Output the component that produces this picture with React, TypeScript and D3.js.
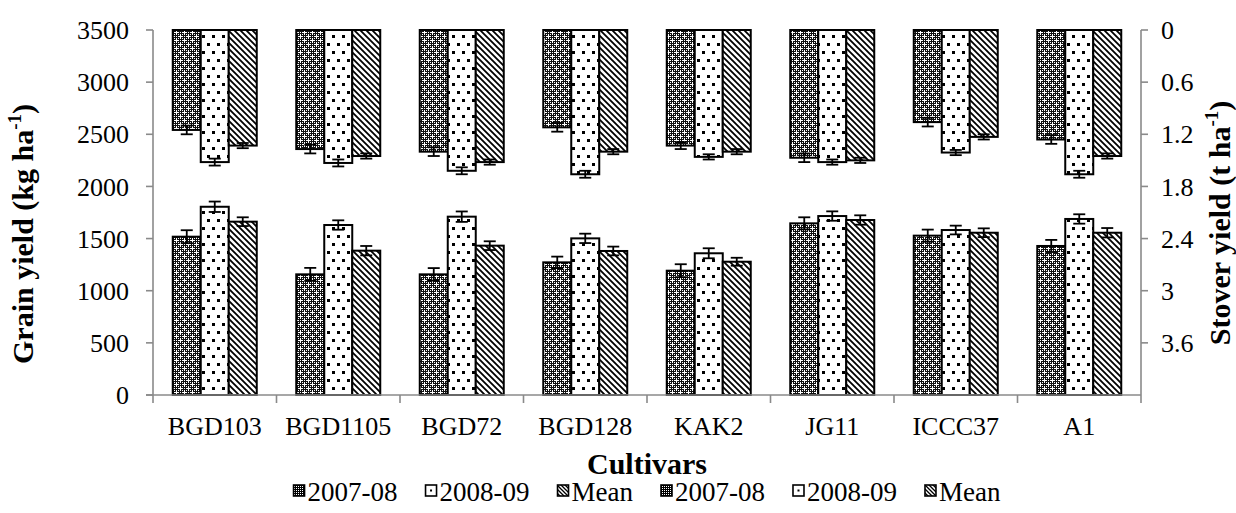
import React from "react";
import * as d3 from "d3";

const categories = ["BGD103", "BGD1105", "BGD72", "BGD128", "KAK2", "JG11", "ICCC37", "A1"];
const seriesNames = ["2007-08", "2008-09", "Mean"];

// Grain yield (kg/ha), left axis, bars rising from bottom
const grain0708 = [1518, 1157, 1157, 1272, 1192, 1646, 1528, 1429];
const grain0809 = [1805, 1630, 1710, 1502, 1359, 1716, 1582, 1688];
const grainMean = [1662, 1384, 1432, 1381, 1278, 1678, 1556, 1556];
const grainErr0708 = [62, 62, 60, 55, 62, 58, 58, 58];
const grainErr0809 = [50, 45, 50, 45, 48, 45, 42, 45];
const grainErrMean = [42, 45, 42, 42, 38, 45, 42, 45];

// Stover yield (t/ha), right reversed axis, bars hanging from top
const stover0708 = [1.15, 1.37, 1.40, 1.12, 1.33, 1.47, 1.06, 1.26];
const stover0809 = [1.52, 1.53, 1.62, 1.66, 1.46, 1.52, 1.41, 1.66];
const stoverMean = [1.33, 1.45, 1.52, 1.40, 1.40, 1.50, 1.23, 1.45];
const stoverErr0708 = [0.05, 0.05, 0.05, 0.05, 0.04, 0.05, 0.05, 0.05];
const stoverErr0809 = [0.04, 0.04, 0.04, 0.04, 0.03, 0.03, 0.03, 0.04];
const stoverErrMean = [0.03, 0.03, 0.03, 0.03, 0.03, 0.03, 0.03, 0.03];

const leftTicks = [0, 500, 1000, 1500, 2000, 2500, 3000, 3500];
const rightTicks = [0, 0.6, 1.2, 1.8, 2.4, 3, 3.6];

const W = 1236;
const H = 513;
const plotLeft = 153;
const plotRight = 1141;
const plotTop = 30;
const plotBottom = 395;
const FONT = "Liberation Serif";
const AXIS = "#8a8a8a";
const patIds = ["pChk", "pDot", "pDiag"];

const txt = (size: number, bold = false): React.CSSProperties => ({
  fontFamily: FONT,
  fontSize: `${size}px`,
  fontWeight: bold ? 700 : 400,
});

// white pixels of the dark "2007-08" texture (8x8 tile)
const chkWhite: [number, number][] = [];
for (let a = 0; a < 8; a += 2) for (let b = 0; b < 8; b += 2) chkWhite.push([a, b]);
chkWhite.push([3, 4], [5, 4], [4, 3], [4, 5], [1, 0], [7, 0], [0, 1], [0, 7]);

export default function App() {
  const x = d3.scaleBand().domain(categories).range([plotLeft, plotRight]).padding(0);
  const groupW = 84;
  const inner = d3.scaleBand().domain(seriesNames).range([0, groupW]).padding(0);
  const off = (x.bandwidth() - groupW) / 2;
  const yL = d3.scaleLinear().domain([0, 3500]).range([plotBottom, plotTop]);
  const yR = d3.scaleLinear().domain([0, 4.2]).range([plotTop, plotBottom]);

  const grain = [grain0708, grain0809, grainMean];
  const grainErr = [grainErr0708, grainErr0809, grainErrMean];
  const stover = [stover0708, stover0809, stoverMean];
  const stoverErr = [stoverErr0708, stoverErr0809, stoverErrMean];

  const bars: any[] = [];
  const errs: any[] = [];
  const cap = 6;
  categories.forEach((c, i) => {
    seriesNames.forEach((s, j) => {
      const bx = (x(c) as number) + off + (inner(s) as number);
      const bw = inner.bandwidth();
      const cx = bx + bw / 2;
      const gv = grain[j][i];
      bars.push(
        <rect key={`g${i}${j}`} x={bx} y={yL(gv)} width={bw} height={plotBottom - yL(gv)}
          fill={`url(#${patIds[j]})`} stroke="#000" strokeWidth={2} />
      );
      const ge = grainErr[j][i];
      const g1 = yL(gv + ge), g2 = yL(gv - ge);
      errs.push(
        <g key={`ge${i}${j}`} stroke="#000" strokeWidth={1.8}>
          <line x1={cx} x2={cx} y1={g1} y2={g2} />
          <line x1={cx - cap} x2={cx + cap} y1={g1} y2={g1} />
          <line x1={cx - cap} x2={cx + cap} y1={g2} y2={g2} />
        </g>
      );
      const sv = stover[j][i];
      bars.push(
        <rect key={`s${i}${j}`} x={bx} y={plotTop} width={bw} height={yR(sv) - plotTop}
          fill={`url(#${patIds[j]})`} stroke="#000" strokeWidth={2} />
      );
      const se = stoverErr[j][i];
      const s1 = yR(sv - se), s2 = yR(sv + se);
      errs.push(
        <g key={`se${i}${j}`} stroke="#000" strokeWidth={1.8}>
          <line x1={cx} x2={cx} y1={s1} y2={s2} />
          <line x1={cx - cap} x2={cx + cap} y1={s1} y2={s1} />
          <line x1={cx - cap} x2={cx + cap} y1={s2} y2={s2} />
        </g>
      );
    });
  });

  // legend layout
  const legendFont = 27;
  const legendItems = [...seriesNames, ...seriesNames].map((n, k) => ({ name: n, pat: patIds[k % 3] }));
  const measure = (t: string) => {
    const cv = document.createElement("canvas").getContext("2d");
    if (!cv) return t.length * legendFont * 0.45;
    cv.font = `${legendFont}px "Liberation Serif"`;
    return cv.measureText(t).width;
  };
  const sw = 11, swGap = 3, itemGap = 28;
  const widths = legendItems.map((it) => sw + swGap + measure(it.name));
  const total = widths.reduce((a, b) => a + b, 0) + itemGap * (widths.length - 1);
  let lx = (plotLeft + plotRight) / 2 - total / 2;
  const legendY = 501;
  const legend = legendItems.map((it, k) => {
    const x0 = lx;
    lx += widths[k] + itemGap;
    return (
      <g key={`lg${k}`}>
        <rect x={x0} y={legendY - 16} width={sw} height={sw} fill={`url(#${it.pat}S)`} stroke="#000" strokeWidth={1.6} />
        {it.pat === "pDot" && <rect x={x0 + 4.5} y={legendY - 11.5} width={2} height={2} fill="#000" />}
        <text x={x0 + sw + swGap} y={legendY} style={txt(legendFont)}>{it.name}</text>
      </g>
    );
  });

  return (
    <svg width={W} height={H} style={{ position: "absolute", left: 0, top: 0, background: "#fff" }}>
      <defs>
        <pattern id="pChk" width={8} height={8} patternUnits="userSpaceOnUse">
          <rect width={8} height={8} fill="#111" />
          {chkWhite.map(([a, b]) => (
            <rect key={`c${a}_${b}`} x={a} y={b} width={1} height={1} fill="#fff" />
          ))}
        </pattern>
        <pattern id="pDot" width={10} height={16} patternUnits="userSpaceOnUse">
          <rect width={10} height={16} fill="#fff" />
          <rect x={2} y={3} width={3} height={3} fill="#000" />
          <rect x={7} y={11} width={3} height={3} fill="#000" />
        </pattern>
        <pattern id="pDiag" width={6} height={6} patternUnits="userSpaceOnUse">
          <rect width={6} height={6} fill="#fff" />
          <path d="M0,0 L6,6 M-1,5 L1,7 M5,-1 L7,1" stroke="#000" strokeWidth={1.8} />
        </pattern>
        <pattern id="pChkS" width={2} height={2} patternUnits="userSpaceOnUse">
          <rect width={2} height={2} fill="#000" />
          <rect x={0} y={0} width={1} height={1} fill="#fff" />
        </pattern>
        <pattern id="pDotS" width={10} height={10} patternUnits="userSpaceOnUse">
          <rect width={10} height={10} fill="#fff" />
        </pattern>
        <pattern id="pDiagS" width={4} height={4} patternUnits="userSpaceOnUse">
          <rect width={4} height={4} fill="#fff" />
          <path d="M0,0 L4,4 M-1,3 L1,5 M3,-1 L5,1" stroke="#000" strokeWidth={1.3} />
        </pattern>
      </defs>

      {bars}
      {errs}

      {/* left axis */}
      <line x1={plotLeft} x2={plotLeft} y1={plotTop} y2={plotBottom + 8} stroke={AXIS} strokeWidth={1.6} />
      {leftTicks.map((t) => (
        <g key={`lt${t}`}>
          <line x1={plotLeft - 7} x2={plotLeft} y1={yL(t)} y2={yL(t)} stroke={AXIS} strokeWidth={1.6} />
          <text x={129} y={yL(t)} dy="0.35em" textAnchor="end" style={txt(26)}>{t}</text>
        </g>
      ))}
      {/* right axis */}
      <line x1={plotRight} x2={plotRight} y1={plotTop} y2={plotBottom + 8} stroke={AXIS} strokeWidth={1.6} />
      {rightTicks.map((t) => (
        <g key={`rt${t}`}>
          <line x1={plotRight} x2={plotRight + 7} y1={yR(t)} y2={yR(t)} stroke={AXIS} strokeWidth={1.6} />
          <text x={1161} y={yR(t)} dy="0.35em" textAnchor="start" style={txt(26)}>{t}</text>
        </g>
      ))}
      {/* x axis */}
      <line x1={plotLeft - 7} x2={plotRight} y1={plotBottom} y2={plotBottom} stroke={AXIS} strokeWidth={1.6} />
      {categories.map((c, i) => (
        <g key={`xc${c}`}>
          {i > 0 && (
            <line x1={x(c) as number} x2={x(c) as number} y1={plotBottom} y2={plotBottom + 8} stroke={AXIS} strokeWidth={1.6} />
          )}
          <text x={(x(c) as number) + x.bandwidth() / 2} y={435} textAnchor="middle" style={txt(26)}>{c}</text>
        </g>
      ))}

      {/* axis titles */}
      <text transform="translate(33,234) rotate(-90)" textAnchor="middle" style={txt(30, true)}>
        Grain yield (kg ha<tspan dy={-12} style={{ fontSize: "19px" }}>-1</tspan><tspan dy={12}>)</tspan>
      </text>
      <text transform="translate(1230,223) rotate(-90)" textAnchor="middle" style={txt(30, true)}>
        Stover yield (t ha<tspan dy={-12} style={{ fontSize: "19px" }}>-1</tspan><tspan dy={12}>)</tspan>
      </text>
      <text x={(plotLeft + plotRight) / 2} y={474} textAnchor="middle" style={txt(30, true)}>Cultivars</text>

      {legend}
    </svg>
  );
}
